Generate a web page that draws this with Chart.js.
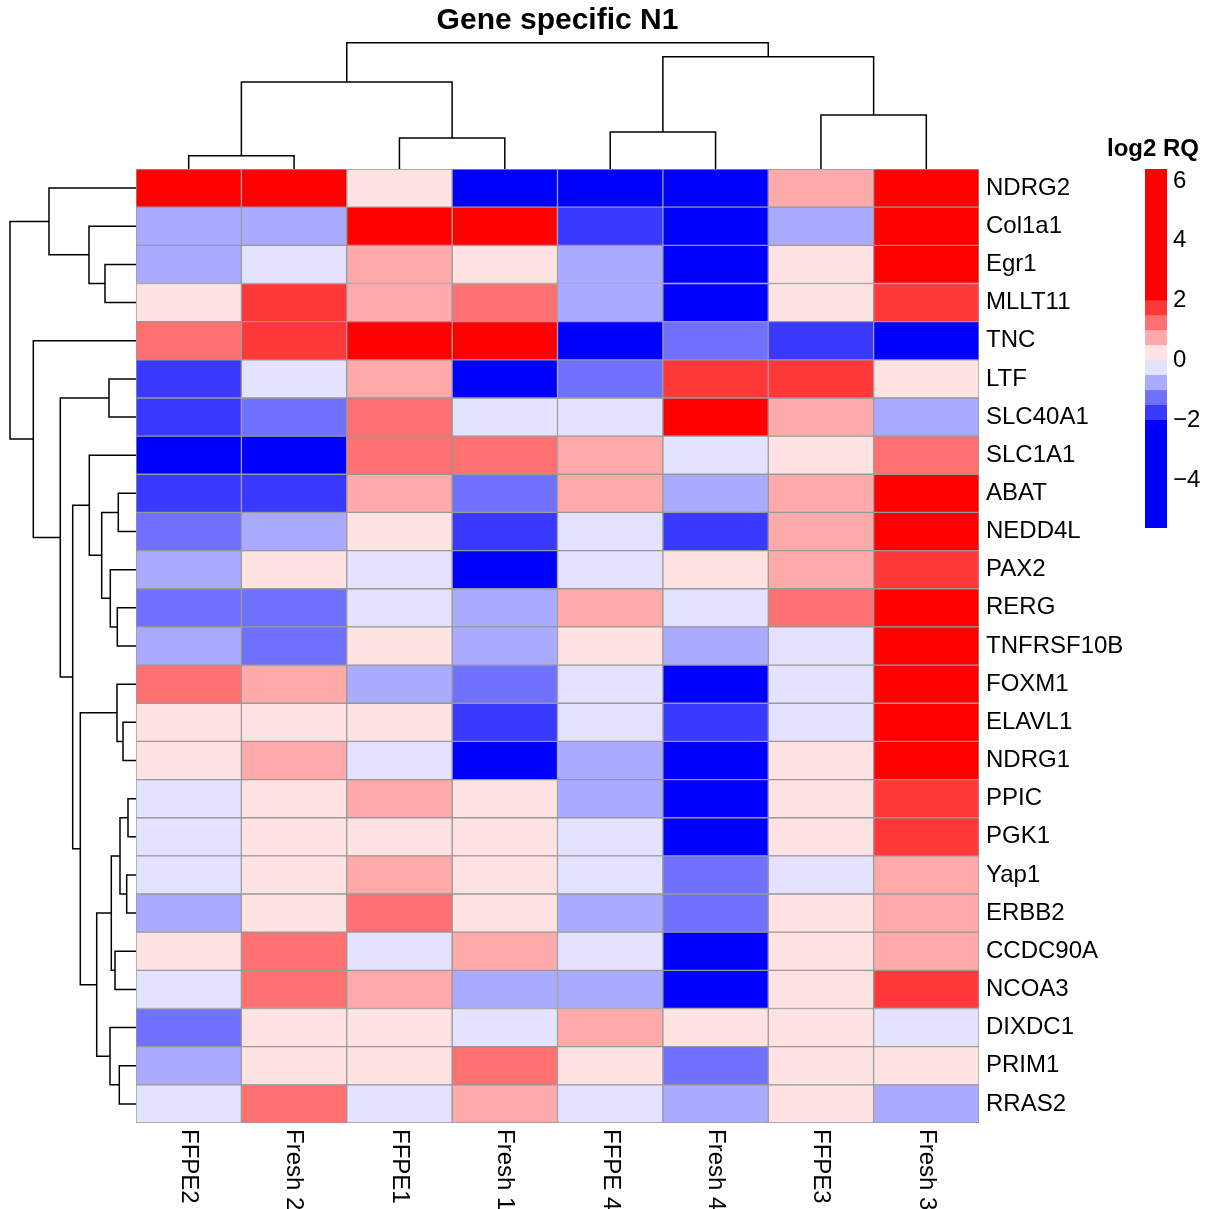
<!DOCTYPE html>
<html>
<head>
<meta charset="utf-8">
<script src="https://cdn.jsdelivr.net/npm/chart.js@4.4.0/dist/chart.umd.min.js"></script>
<style>
html,body{margin:0;padding:0;background:#fff;}
#wrap{position:relative;width:1206px;height:1209px;overflow:hidden;background:#fff;}
canvas{position:absolute;}
</style>
</head>
<body>
<div id="wrap">
  <canvas id="main" width="1206" height="1209" style="left:0;top:0"></canvas>
  <canvas id="topTree" width="843" height="131" style="left:136px;top:38px"></canvas>
  <canvas id="leftTree" width="136" height="954" style="left:0;top:169px"></canvas>
  <canvas id="legend" width="106" height="420" style="left:1100px;top:120px"></canvas>
</div>
<script>
// ---------------- data ----------------
const chartTitle = 'Gene specific N1';
const legendTitle = 'log2 RQ';
const colLabels = ['FFPE2', 'Fresh 2', 'FFPE1', 'Fresh 1', 'FFPE 4', 'Fresh 4', 'FFPE3', 'Fresh 3'];
const rowLabels = ['NDRG2', 'Col1a1', 'Egr1', 'MLLT11', 'TNC', 'LTF', 'SLC40A1', 'SLC1A1', 'ABAT', 'NEDD4L',
  'PAX2', 'RERG', 'TNFRSF10B', 'FOXM1', 'ELAVL1', 'NDRG1', 'PPIC', 'PGK1', 'Yap1', 'ERBB2',
  'CCDC90A', 'NCOA3', 'DIXDC1', 'PRIM1', 'RRAS2'];

// log2 RQ per column (rows in the order of rowLabels)
const ffpe2  = [3.5, -0.75, -0.75, 0.25, 1.25, -1.75, -1.75, -3.5, -1.75, -1.25, -0.75, -1.25, -0.75, 1.25, 0.25, 0.25, -0.25, -0.25, -0.25, -0.75, 0.25, -0.25, -1.25, -0.75, -0.25];
const fresh2 = [3.5, -0.75, -0.25, 1.75, 1.75, -0.25, -1.25, -3.5, -1.75, -0.75, 0.25, -1.25, -1.25, 0.75, 0.25, 0.75, 0.25, 0.25, 0.25, 0.25, 1.25, 1.25, 0.25, 0.25, 1.25];
const ffpe1  = [0.25, 3.5, 0.75, 0.75, 3.5, 0.75, 1.25, 1.25, 0.75, 0.25, -0.25, -0.25, 0.25, -0.75, 0.25, -0.25, 0.75, 0.25, 0.75, 1.25, -0.25, 0.75, 0.25, 0.25, -0.25];
const fresh1 = [-3.5, 3.5, 0.25, 1.25, 3.5, -3.5, -0.25, 1.25, -1.25, -1.75, -3.5, -0.75, -0.75, -1.25, -1.75, -3.5, 0.25, 0.25, 0.25, 0.25, 0.75, -0.75, -0.25, 1.25, 0.75];
const ffpe4  = [-3.5, -1.75, -0.75, -0.75, -3.5, -1.25, -0.25, 0.75, 0.75, -0.25, -0.25, 0.75, 0.25, -0.25, -0.25, -0.75, -0.75, -0.25, -0.25, -0.75, -0.25, -0.75, 0.75, 0.25, -0.25];
const fresh4 = [-3.5, -3.5, -3.5, -3.5, -1.25, 1.75, 3.5, -0.25, -0.75, -1.75, 0.25, -0.25, -0.75, -3.5, -1.75, -3.5, -3.5, -3.5, -1.25, -1.25, -3.5, -3.5, 0.25, -1.25, -0.75];
const ffpe3  = [0.75, -0.75, 0.25, 0.25, -1.75, 1.75, 0.75, 0.25, 0.75, 0.75, 0.75, 1.25, -0.25, -0.25, -0.25, 0.25, 0.25, 0.25, -0.25, 0.25, 0.25, 0.25, 0.25, 0.25, 0.25];
const fresh3 = [3.5, 3.5, 3.5, 1.75, -3.5, 0.25, -0.75, 1.25, 3.5, 3.5, 1.75, 3.5, 3.5, 3.5, 3.5, 3.5, 1.75, 1.75, 0.75, 0.75, 0.75, 1.75, -0.25, 0.25, -0.75];

// colour scale
const colorBreaks = [-2, -1.5, -1, -0.5, 0, 0.5, 1, 1.5, 2];
const palette = ['#0000FF', '#3939FF', '#7171FF', '#AAAAFF', '#E3E3FF', '#FFE3E3', '#FFAAAA', '#FF7171', '#FF3939', '#FF0000'];
const legendMin = -5.6;
const legendMax = 6.4;
const legendTicks = [-4, -2, 0, 2, 4, 6];

// dendrograms (hclust-style merges: negative = leaf index+1, positive = earlier merge; third value = height)
const colMerges = [[-1, -2, 13.3], [-3, -4, 31], [-5, -6, 37], [-7, -8, 54], [1, 2, 87], [3, 4, 112.3], [5, 6, 126.3]];
const colTreeMax = 131;
const rowMerges = [
  [-3, -4, 31], [-2, 1, 47], [-1, 2, 87], [-6, -7, 27], [-9, -10, 17.7], [-12, -13, 18.7], [-11, 6, 25.7],
  [5, 7, 34.3], [-8, 8, 46.7], [-15, -16, 13], [-14, 10, 19], [-17, -18, 8], [-19, -20, 9.3], [12, 13, 16],
  [-21, -22, 21], [14, 15, 24.7], [-24, -25, 16.7], [-23, 17, 26], [16, 18, 39.3], [11, 19, 55.7],
  [9, 20, 63.3], [4, 21, 75.7], [-5, 22, 102.7], [3, 23, 126]
];
const rowTreeMax = 136;

// ---------------- rendering ----------------
const FONT = "'Liberation Sans', Arial, Helvetica, sans-serif";
Chart.defaults.font.family = FONT;
Chart.defaults.color = '#000';
Chart.defaults.animation = false;

function colorFor(v) {
  let i = 0;
  while (i < colorBreaks.length && v >= colorBreaks[i]) i++;
  return palette[i];
}

const columns = [ffpe2, fresh2, ffpe1, fresh1, ffpe4, fresh4, ffpe3, fresh3];

const colLabelPlugin = {
  id: 'colLabels',
  afterDraw(chart) {
    const { ctx, chartArea, scales } = chart;
    const x = scales.x;
    ctx.save();
    ctx.font = '24px ' + FONT;
    ctx.fillStyle = '#000';
    ctx.textAlign = 'left';
    ctx.textBaseline = 'middle';
    colLabels.forEach((lab, c) => {
      ctx.save();
      ctx.translate(x.getPixelForValue(c + 0.5), chartArea.bottom + 6);
      ctx.rotate(Math.PI / 2);
      ctx.fillText(lab, 0, 0);
      ctx.restore();
    });
    ctx.restore();
  }
};

new Chart(document.getElementById('main'), {
  type: 'bar',
  data: {
    labels: rowLabels,
    datasets: columns.map((vals, c) => ({
      label: colLabels[c],
      data: vals.map(() => [c, c + 1]),
      backgroundColor: vals.map(colorFor),
      borderColor: '#999999',
      borderWidth: 1,
      borderSkipped: false,
      barPercentage: 1,
      categoryPercentage: 1,
      grouped: false
    }))
  },
  options: {
    indexAxis: 'y',
    responsive: false,
    animation: false,
    layout: { padding: { left: 136, right: 0, top: 0, bottom: 86 } },
    plugins: {
      legend: { display: false },
      tooltip: { enabled: false },
      title: {
        display: true, text: chartTitle, fullSize: false, color: '#000',
        font: { size: 30, weight: 'bold' }, padding: { top: 3, bottom: 130 }
      }
    },
    scales: {
      x: { type: 'linear', min: 0, max: colLabels.length, display: false },
      y: {
        type: 'category', position: 'right',
        grid: { display: false, drawTicks: false },
        border: { display: false },
        ticks: { font: { size: 24 }, color: '#000', padding: 7, autoSkip: false },
        afterFit(s) { s.width = 227; }
      }
    }
  },
  plugins: [colLabelPlugin]
});

function buildDendro(merges) {
  const pos = [], hgt = [], segs = [];
  const getPos = k => (k < 0 ? (-k - 1) + 0.5 : pos[k - 1]);
  const getH = k => (k < 0 ? 0 : hgt[k - 1]);
  merges.forEach(([a, b, h], i) => {
    const pa = getPos(a), pb = getPos(b);
    pos[i] = (pa + pb) / 2;
    hgt[i] = h;
    segs.push([[pa, getH(a)], [pa, h], [pb, h], [pb, getH(b)]]);
  });
  return segs;
}

function treeDatasets(segs, horizontal) {
  return segs.map(seg => ({
    data: seg.map(([p, h]) => (horizontal ? { x: h, y: p } : { x: p, y: h })),
    showLine: true,
    pointRadius: 0,
    borderColor: '#000',
    borderWidth: 1.5,
    tension: 0,
    clip: 4
  }));
}

new Chart(document.getElementById('topTree'), {
  type: 'scatter',
  data: { datasets: treeDatasets(buildDendro(colMerges), false) },
  options: {
    responsive: false, animation: false,
    layout: { padding: 0 },
    plugins: { legend: { display: false }, tooltip: { enabled: false } },
    scales: {
      x: { type: 'linear', min: 0, max: colLabels.length, display: false },
      y: { type: 'linear', min: 0, max: colTreeMax, display: false }
    }
  }
});

new Chart(document.getElementById('leftTree'), {
  type: 'scatter',
  data: { datasets: treeDatasets(buildDendro(rowMerges), true) },
  options: {
    responsive: false, animation: false,
    layout: { padding: 0 },
    plugins: { legend: { display: false }, tooltip: { enabled: false } },
    scales: {
      x: { type: 'linear', min: 0, max: rowTreeMax, reverse: true, display: false },
      y: { type: 'linear', min: 0, max: rowLabels.length, reverse: true, display: false }
    }
  }
});

function noPad(s) { s.paddingTop = 0; s.paddingBottom = 0; s.paddingLeft = 0; s.paddingRight = 0; }

const legendEdges = [legendMin].concat(colorBreaks, [legendMax]);
new Chart(document.getElementById('legend'), {
  type: 'bar',
  data: {
    labels: [''],
    datasets: palette.map((col, i) => ({
      data: [[legendEdges[i], legendEdges[i + 1]]],
      xAxisID: 'x',
      yAxisID: 'y',
      backgroundColor: col,
      borderWidth: 0,
      barPercentage: 1,
      categoryPercentage: 1,
      grouped: false
    }))
  },
  options: {
    responsive: false, animation: false,
    layout: { padding: { left: 0, right: 0, top: 0, bottom: 12 } },
    plugins: {
      legend: { display: false },
      tooltip: { enabled: false },
      title: {
        display: true, text: legendTitle, color: '#000',
        font: { size: 24, weight: 'bold' }, padding: { top: 14.6, bottom: 5.6 }
      }
    },
    scales: {
      x: { type: 'category', display: false },
      yl: {
        type: 'linear', position: 'left', display: true, min: 0, max: 1,
        ticks: { display: false }, grid: { display: false, drawTicks: false }, border: { display: false },
        afterFit(s) { s.width = 45; noPad(s); }
      },
      y: {
        type: 'linear', position: 'right', min: legendMin, max: legendMax,
        grid: { display: false, drawTicks: false },
        border: { display: false },
        afterBuildTicks(s) { s.ticks = legendTicks.map(v => ({ value: v })); },
        ticks: {
          font: { size: 24 }, color: '#000', padding: 6,
          callback: v => (v < 0 ? '\u2212' + Math.abs(v) : String(v))
        },
        afterFit(s) { s.width = 39; noPad(s); }
      }
    }
  }
});
</script>
</body>
</html>
